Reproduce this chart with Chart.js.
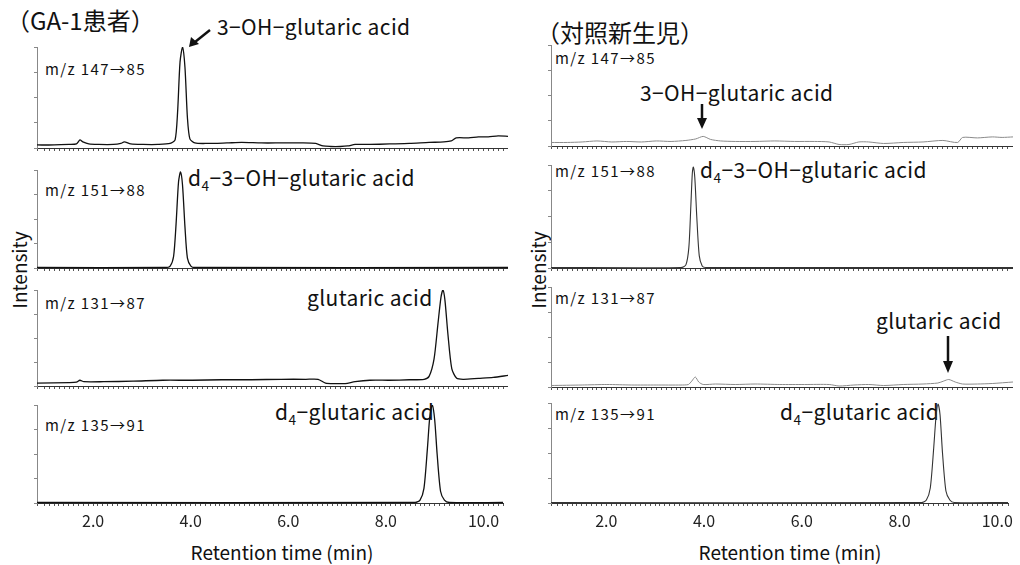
<!DOCTYPE html>
<html>
<head>
<meta charset="utf-8">
<script src="https://cdn.jsdelivr.net/npm/chart.js@4"></script>
<style>
  body { margin: 0; background: #fff; width: 1020px; height: 565px; position: relative; overflow: hidden;
         font-family: "Noto Sans CJK JP", "Noto Sans", sans-serif; color: #111; }
  canvas { position: absolute; }
  .t { position: absolute; white-space: nowrap; line-height: 1; transform: translateY(-50%); }
  .head { font-size: 24px; }
  .big { font-size: 21px; letter-spacing: 0.4px; }
  .mz { font-size: 15px; letter-spacing: 1.4px; }
  .ax { font-size: 19px; }
  .xt { transform: translate(-50%, -50%); }
  sub { font-size: 0.65em; vertical-align: -0.35em; }
  svg { position: absolute; left: 0; top: 0; }
</style>
</head>
<body>

<!-- left column labels -->
<div class="t head" style="left:6px;top:20px">（GA-1患者）</div>
<div class="t big" style="left:217px;top:26px">3−OH−glutaric acid</div>
<div class="t mz" style="left:45px;top:68px">m/z 147→85</div>
<div class="t big" style="left:188px;top:180px">d<sub>4</sub>−3−OH−glutaric acid</div>
<div class="t mz" style="left:45px;top:189px">m/z 151→88</div>
<div class="t mz" style="left:45px;top:302px">m/z 131→87</div>
<div class="t big" style="left:307px;top:297px">glutaric acid</div>
<div class="t mz" style="left:45px;top:424px">m/z 135→91</div>
<div class="t big" style="left:275px;top:414px">d<sub>4</sub>−glutaric acid</div>
<div class="t ax" style="left:18px;top:270px;transform:translate(-50%,-50%) rotate(-90deg)">Intensity</div>
<div class="t ax xt" style="left:282px;top:551px">Retention time (min)</div>

<!-- right column labels -->
<div class="t head" style="left:536px;top:32px">（対照新生児）</div>
<div class="t mz" style="left:555px;top:57px">m/z 147→85</div>
<div class="t big" style="left:640px;top:92px">3−OH−glutaric acid</div>
<div class="t mz" style="left:555px;top:170px">m/z 151→88</div>
<div class="t big" style="left:700px;top:172px">d<sub>4</sub>−3−OH−glutaric acid</div>
<div class="t mz" style="left:555px;top:297px">m/z 131→87</div>
<div class="t big" style="left:876px;top:320px">glutaric acid</div>
<div class="t mz" style="left:555px;top:413px">m/z 135→91</div>
<div class="t big" style="left:780px;top:414px">d<sub>4</sub>−glutaric acid</div>
<div class="t ax" style="left:537px;top:270px;transform:translate(-50%,-50%) rotate(-90deg)">Intensity</div>
<div class="t ax xt" style="left:790px;top:551px">Retention time (min)</div>

<svg width="1020" height="565">
  <g stroke="#111" stroke-width="2.5" fill="#111">
    <line x1="210" y1="30" x2="195" y2="42"/>
    <polygon points="189,47 191,37 199,44" stroke="none"/>
    <line x1="702" y1="104" x2="702" y2="120"/>
    <polygon points="702,129 697,118 707,118" stroke="none"/>
    <line x1="948" y1="336" x2="948" y2="363"/>
    <polygon points="948,373 943,361 953,361" stroke="none"/>
  </g>
</svg>

<script>
// retention time axis ranges (min)
const leftRange = [0.85, 10.4];
const rightRange = [0.87, 10.22];

// GA-1 patient traces (time in min, relative intensity 0-100)
const gaTime147 = [0.85, 1.2, 1.5, 1.65, 1.72, 1.78, 1.9, 2.1, 2.4, 2.55, 2.62, 2.75, 3.0, 3.3, 3.55, 3.65, 3.7, 3.75, 3.8, 3.85, 3.9, 3.95, 4.05, 4.3, 4.7, 5.0, 5.4, 5.8, 6.2, 6.5, 6.65, 6.8, 7.0, 7.15, 7.3, 7.6, 8.0, 8.4, 8.8, 9.1, 9.25, 9.35, 9.6, 9.8, 10.0, 10.2, 10.4];
const gaInt147  = [3, 3, 3.5, 4, 8, 6, 4, 3.5, 3.5, 4.5, 6, 4, 3.5, 3.5, 4.5, 8, 35, 85, 100, 80, 30, 9, 5, 4.5, 5, 5.5, 5, 5, 5, 4.5, 2, 1.5, 1.5, 2, 3.5, 3.5, 4, 4.5, 5.5, 6, 7, 10, 10, 11, 11, 12, 11.5];

const gaTime151 = [0.85, 3.45, 3.55, 3.62, 3.67, 3.72, 3.76, 3.8, 3.85, 3.9, 3.97, 4.05, 10.4];
const gaInt151  = [0.5, 0.5, 2, 12, 45, 88, 98, 85, 42, 10, 2, 0.5, 0.5];

const gaTime131 = [0.85, 1.5, 1.65, 1.72, 1.8, 2.2, 2.8, 3.4, 4.0, 4.6, 5.2, 5.8, 6.3, 6.55, 6.7, 6.9, 7.1, 7.3, 7.6, 8.0, 8.4, 8.7, 8.8, 8.9, 8.98, 9.04, 9.08, 9.12, 9.18, 9.26, 9.36, 9.5, 9.8, 10.1, 10.4];
const gaInt131  = [3, 3.5, 4, 6, 4.5, 4.5, 5, 6, 6, 6.5, 6.5, 7, 7, 7, 3, 2.5, 2.5, 4.5, 6, 6, 6.5, 7, 10, 28, 65, 92, 100, 90, 55, 18, 8, 7, 8, 9, 11];

const gaTime135 = [0.85, 8.6, 8.7, 8.78, 8.85, 8.9, 8.95, 9.0, 9.05, 9.12, 9.2, 9.3, 10.4];
const gaInt135  = [0.5, 0.5, 3, 15, 55, 88, 100, 85, 50, 12, 3, 0.5, 0.5];

// control newborn traces
const ctTime147 = [0.87, 1.2, 1.5, 1.8, 2.1, 2.4, 2.7, 3.0, 3.3, 3.6, 3.8, 3.95, 4.1, 4.3, 4.6, 5.0, 5.4, 5.8, 6.2, 6.5, 6.7, 6.9, 7.1, 7.3, 7.6, 8.0, 8.4, 8.8, 9.1, 9.2, 9.5, 9.8, 10.0, 10.22];
const ctInt147  = [3.5, 3.5, 4, 5, 4, 4.5, 4, 5, 4.5, 5.5, 7, 9.5, 6.5, 5, 4.5, 4.5, 5, 4.5, 4.5, 4, 1.5, 1.5, 4, 4, 2.5, 3.5, 4, 5.5, 3.5, 8.5, 8, 9, 8.5, 9];

const ctTime151 = [0.87, 3.5, 3.6, 3.66, 3.7, 3.73, 3.75, 3.78, 3.82, 3.87, 3.93, 4.0, 10.22];
const ctInt151  = [0.5, 0.5, 3, 20, 60, 92, 98, 88, 50, 12, 2, 0.5, 0.5];

const ctTime131 = [0.87, 1.5, 2.0, 2.5, 3.0, 3.5, 3.65, 3.72, 3.79, 3.86, 3.95, 4.2, 4.6, 5.0, 5.5, 6.0, 6.5, 6.7, 7.0, 7.3, 7.6, 8.0, 8.4, 8.7, 8.82, 8.92, 9.05, 9.2, 9.5, 9.8, 10.22];
const ctInt131  = [1.5, 2, 2.5, 2, 2, 2, 2.5, 6, 10, 5, 2.5, 3, 2.5, 3, 2.5, 2.5, 2.5, 1, 2, 2.5, 1.5, 2.5, 3, 4, 6, 7.5, 5, 3, 3, 3.5, 5];

const ctTime135 = [0.87, 8.45, 8.55, 8.63, 8.7, 8.75, 8.79, 8.83, 8.88, 8.95, 9.03, 9.12, 10.22];
const ctInt135  = [0.5, 0.5, 3, 15, 55, 88, 99, 88, 50, 12, 3, 0.5, 0.5];

const xTickLabels = ['2.0', '4.0', '6.0', '8.0', '10.0'];

// panel boxes: axis x, right edge, top of y axis, baseline
const panels = [
  { axisX: 37,  right: 508,  top: 47,  base: 148, range: leftRange,  t: gaTime147, v: gaInt147, color: '#111', w: 1.3 },
  { axisX: 37,  right: 508,  top: 170, base: 268, range: leftRange,  t: gaTime151, v: gaInt151, color: '#111', w: 1.3 },
  { axisX: 37,  right: 508,  top: 290, base: 386, range: leftRange,  t: gaTime131, v: gaInt131, color: '#111', w: 1.3 },
  { axisX: 37,  right: 508,  top: 405, base: 503, range: leftRange,  t: gaTime135, v: gaInt135, color: '#111', w: 1.3, bottom: true },
  { axisX: 551, right: 1013, top: 45,  base: 146, range: rightRange, t: ctTime147, v: ctInt147, color: '#8a8a8a', w: 1 },
  { axisX: 551, right: 1013, top: 165, base: 268, range: rightRange, t: ctTime151, v: ctInt151, color: '#333', w: 1.1 },
  { axisX: 551, right: 1013, top: 287, base: 387, range: rightRange, t: ctTime131, v: ctInt131, color: '#8a8a8a', w: 1 },
  { axisX: 551, right: 1013, top: 403, base: 503, range: rightRange, t: ctTime135, v: ctInt135, color: '#333', w: 1.1, bottom: true }
];

const Y_AXIS_W = 5;
const X_AXIS_H = 5;
const X_AXIS_H_BOTTOM = 62;

panels.forEach(p => {
  const canvas = document.createElement('canvas');
  const xh = p.bottom ? X_AXIS_H_BOTTOM : X_AXIS_H;
  canvas.width = p.right - p.axisX + Y_AXIS_W;
  canvas.height = p.base - p.top + xh;
  canvas.style.left = (p.axisX - Y_AXIS_W) + 'px';
  canvas.style.top = p.top + 'px';
  document.body.appendChild(canvas);

  new Chart(canvas, {
    type: 'line',
    data: {
      datasets: [{
        data: p.t.map((t, i) => ({ x: t, y: p.v[i] })),
        borderColor: p.color,
        borderWidth: p.w,
        pointRadius: 0,
        fill: false,
        tension: 0.25,
        clip: 3
      }]
    },
    options: {
      responsive: false,
      animation: false,
      events: [],
      layout: { padding: 0 },
      plugins: { legend: { display: false }, tooltip: { enabled: false } },
      scales: {
        x: {
          type: 'linear',
          min: p.range[0],
          max: p.range[1],
          border: { color: '#333', width: 1 },
          grid: { drawOnChartArea: false, drawTicks: true, tickLength: 3, color: '#555' },
          ticks: {
            display: !!p.bottom,
            stepSize: 0.1,
            autoSkip: false,
            maxRotation: 0,
            padding: 5,
            color: '#222',
            font: { family: '"Noto Sans CJK JP", sans-serif', size: 16 },
            callback: v => {
              const r = Math.round(v);
              if (Math.abs(v - r) > 1e-6) return '';
              const lbl = r.toFixed(1);
              return xTickLabels.includes(lbl) ? lbl : '';
            }
          },
          afterFit: s => { s.height = xh; }
        },
        y: {
          min: 0,
          max: 100,
          border: { color: '#888', width: 1 },
          grid: { drawOnChartArea: false, tickLength: 3, color: '#888' },
          ticks: { display: false, stepSize: 25 },
          afterFit: s => { s.width = Y_AXIS_W; }
        }
      }
    }
  });
});
</script>
</body>
</html>
